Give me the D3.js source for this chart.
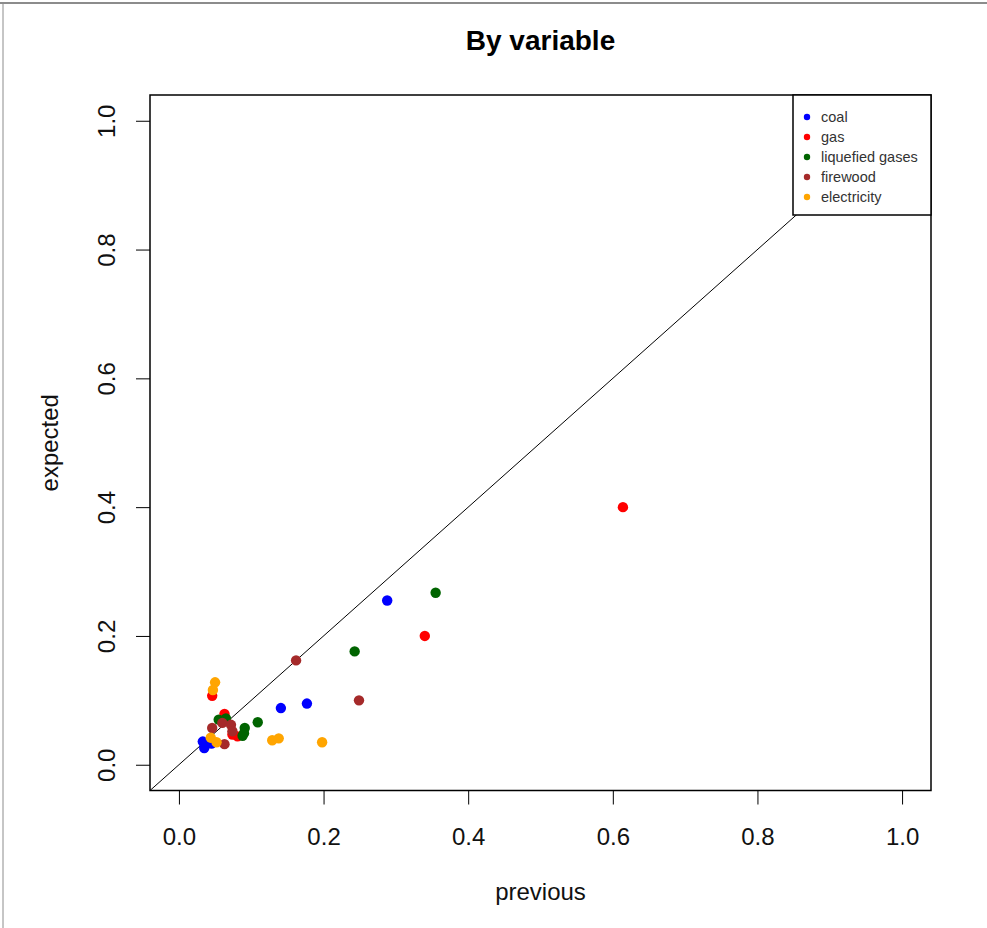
<!DOCTYPE html>
<html>
<head>
<meta charset="utf-8">
<script src="https://cdn.jsdelivr.net/npm/d3@7"></script>
<style>
body { margin: 0; background: #fff; }
text { font-family: "Liberation Sans", Arial, sans-serif; }
</style>
</head>
<body>
<svg id="chart" width="987" height="928"></svg>
<script>
// values
var categories = ["coal", "gas", "liquefied gases", "firewood", "electricity"]
var colors = ["#0000ff", "#ff0000", "#006400", "#a52a2a", "#ffa500"]

var coalPrev = [0.288, 0.177, 0.141, 0.033, 0.035, 0.045]
var coalExp  = [0.255, 0.095, 0.088, 0.036, 0.026, 0.033]

var gasPrev = [0.614, 0.340, 0.046, 0.063, 0.074, 0.081]
var gasExp  = [0.400, 0.200, 0.107, 0.079, 0.047, 0.044]

var liqPrev = [0.355, 0.243, 0.109, 0.091, 0.088, 0.055, 0.065, 0.090]
var liqExp  = [0.267, 0.176, 0.066, 0.057, 0.045, 0.070, 0.072, 0.049]

var firePrev = [0.162, 0.249, 0.046, 0.060, 0.072, 0.074, 0.063]
var fireExp  = [0.162, 0.100, 0.057, 0.065, 0.062, 0.052, 0.032]

var elecPrev = [0.050, 0.047, 0.198, 0.129, 0.138, 0.044, 0.052]
var elecExp  = [0.128, 0.116, 0.035, 0.038, 0.041, 0.042, 0.035]

var ticks = [0, 0.2, 0.4, 0.6, 0.8, 1.0]

var series = [
    {name: categories[0], color: colors[0], prev: coalPrev, exp: coalExp},
    {name: categories[1], color: colors[1], prev: gasPrev, exp: gasExp},
    {name: categories[2], color: colors[2], prev: liqPrev, exp: liqExp},
    {name: categories[3], color: colors[3], prev: firePrev, exp: fireExp},
    {name: categories[4], color: colors[4], prev: elecPrev, exp: elecExp}
]

var plotLeft = 150, plotRight = 931, plotTop = 95, plotBottom = 790.5

function draw(root)
{
    var chart = d3.select(root)

    // frame of the exported image
    chart.append("line").attr("x1", 0).attr("x2", 987).attr("y1", 3).attr("y2", 3)
        .attr("stroke", "#8c8c8c").attr("stroke-width", 2)
    chart.append("line").attr("x1", 3).attr("x2", 3).attr("y1", 3).attr("y2", 928)
        .attr("stroke", "#8c8c8c").attr("stroke-width", 1)

    var x = d3.scaleLinear().domain([-0.04, 1.04]).range([plotLeft, plotRight])
    var y = d3.scaleLinear().domain([-0.04, 1.04]).range([plotBottom, plotTop])

    var xAxis = chart.append("g")
        .attr("transform", "translate(0," + plotBottom + ")")
        .call(d3.axisBottom(x).tickValues(ticks).tickSize(14).tickFormat(d3.format(".1f")))
    xAxis.select(".domain").remove()
    xAxis.selectAll("line").attr("stroke", "#000")
    xAxis.selectAll("text").attr("font-size", 24).attr("fill", "#111").attr("dy", 0).attr("y", 54)

    var yAxis = chart.append("g")
        .attr("transform", "translate(" + plotLeft + ",0)")
        .call(d3.axisLeft(y).tickValues(ticks).tickSize(14).tickFormat(d3.format(".1f")))
    yAxis.select(".domain").remove()
    yAxis.selectAll("line").attr("stroke", "#000")
    yAxis.selectAll("text")
        .attr("font-size", 24).attr("fill", "#111")
        .attr("x", null).attr("dy", 0)
        .attr("text-anchor", "middle")
        .attr("transform", "translate(-35,0) rotate(-90)")

    chart.append("clipPath").attr("id", "plotclip")
        .append("rect").attr("x", plotLeft).attr("y", plotTop)
        .attr("width", plotRight - plotLeft).attr("height", plotBottom - plotTop)

    // y = x reference line
    chart.append("line")
        .attr("clip-path", "url(#plotclip)")
        .attr("x1", x(-0.04)).attr("y1", y(-0.04))
        .attr("x2", x(1.04)).attr("y2", y(1.04))
        .attr("stroke", "#000").attr("stroke-width", 1)

    series.forEach(function(s) {
        chart.append("g").selectAll("circle")
            .data(s.prev.map(function(d, i) { return [d, s.exp[i]] }))
            .enter().append("circle")
            .attr("cx", function(d) { return x(d[0]) })
            .attr("cy", function(d) { return y(d[1]) })
            .attr("r", 5.2)
            .attr("fill", s.color)
    })

    chart.append("rect")
        .attr("x", plotLeft).attr("y", plotTop)
        .attr("width", plotRight - plotLeft).attr("height", plotBottom - plotTop)
        .attr("fill", "none").attr("stroke", "#000").attr("stroke-width", 1.5)

    // legend, top right
    var legend = chart.append("g")
    legend.append("rect")
        .attr("x", 793).attr("y", plotTop)
        .attr("width", plotRight - 793).attr("height", 215 - plotTop)
        .attr("fill", "#fff").attr("stroke", "#000").attr("stroke-width", 1.5)

    var item = legend.selectAll("g.item").data(series)
        .enter().append("g").classed("item", true)
        .attr("transform", function(d, i) { return "translate(807," + (117 + i * 20) + ")" })
    item.append("circle").attr("r", 3.2).attr("fill", function(d) { return d.color })
    item.append("text")
        .attr("x", 14).attr("y", 5)
        .attr("font-size", 14.5).attr("fill", "#333")
        .text(function(d) { return d.name })

    chart.append("text")
        .attr("x", (plotLeft + plotRight) / 2).attr("y", 50)
        .attr("text-anchor", "middle")
        .attr("font-size", 28).attr("font-weight", "bold")
        .text("By variable")

    chart.append("text")
        .attr("x", (plotLeft + plotRight) / 2).attr("y", 900)
        .attr("text-anchor", "middle")
        .attr("font-size", 24).attr("fill", "#111")
        .text("previous")

    chart.append("text")
        .attr("transform", "translate(58," + (plotTop + plotBottom) / 2 + ") rotate(-90)")
        .attr("text-anchor", "middle")
        .attr("font-size", 24).attr("fill", "#111")
        .text("expected")
}

draw("#chart")
</script>
</body>
</html>
